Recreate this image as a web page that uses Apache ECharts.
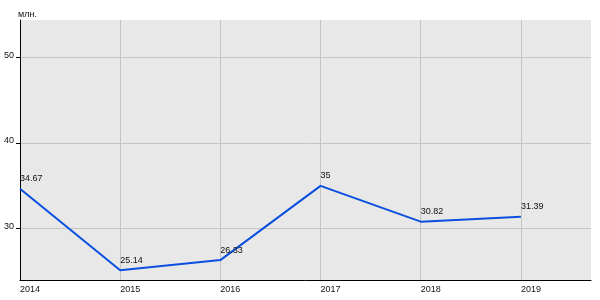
<!DOCTYPE html>
<html><head><meta charset="utf-8">
<script src="https://cdn.jsdelivr.net/npm/echarts@6/dist/echarts.min.js"></script>
<style>html,body{margin:0;padding:0;background:#fff}#c{width:600px;height:300px}</style>
</head><body><div id="c"></div>
<script>
const years = [2014, 2015, 2016, 2017, 2018, 2019];
const values = [34.67, 25.14, 26.33, 35, 30.82, 31.39];
const yTicks = [30, 40, 50];
const xTicks = [2014, 2015, 2016, 2017, 2018, 2019];
const unitLabel = 'млн.';

const font = 'Liberation Sans, Arial, sans-serif';
const chart = echarts.init(document.getElementById('c'), null, {renderer: 'canvas'});
chart.setOption({
  animation: false,
  backgroundColor: '#ffffff',
  title: {
    text: unitLabel, left: 13, top: 5,
    textStyle: {fontSize: 9, fontWeight: 'normal', color: '#111', fontFamily: font}
  },
  grid: {left: 20, right: 9, top: 20, bottom: 20, show: true, backgroundColor: '#e8e8e8', borderWidth: 0},
  xAxis: {
    type: 'value', min: 2014, max: 2019.7,
    axisLine: {show: true, lineStyle: {color: '#000', width: 1}},
    axisTick: {show: false, customValues: xTicks},
    axisLabel: {customValues: xTicks, align: 'left', margin: 5, fontSize: 9, color: '#111', fontFamily: font,
      formatter: v => String(v)},
    splitLine: {show: true, lineStyle: {color: '#c4c4c4', width: 1}}
  },
  yAxis: {
    type: 'value', min: 24, max: 54.4,
    axisLine: {show: true, lineStyle: {color: '#000', width: 1}},
    axisTick: {show: true, length: 4, customValues: yTicks, lineStyle: {color: '#000'}},
    axisLabel: {customValues: yTicks, margin: 6, fontSize: 9, color: '#111', fontFamily: font, verticalAlign: 'bottom', padding: [0,0,-2,0]},
    splitLine: {show: true, lineStyle: {color: '#c4c4c4', width: 1}}
  },
  series: [{
    type: 'line',
    data: years.map((y, i) => [y, values[i]]),
    showSymbol: true,
    showAllSymbol: true,
    symbol: 'circle',
    symbolSize: 1,
    lineStyle: {color: '#0a4fe0', width: 2},
    itemStyle: {color: 'rgba(0,0,0,0)', borderWidth: 0},
    label: {show: true, position: 'top', align: 'left', distance: 5, fontSize: 9, color: '#111', fontFamily: font,
      formatter: p => String(p.value[1])}
  }]
});
</script>
</body></html>
